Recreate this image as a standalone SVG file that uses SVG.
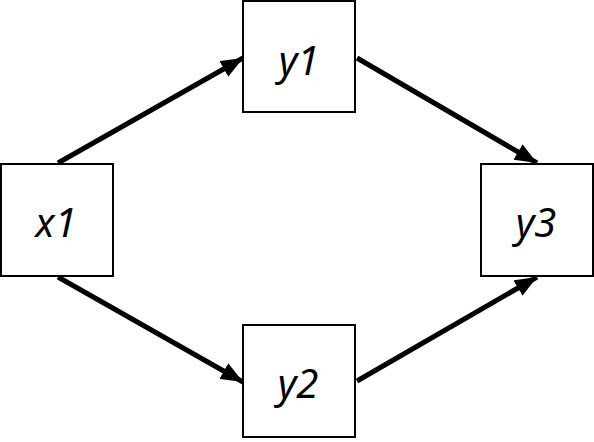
<svg xmlns="http://www.w3.org/2000/svg" width="594" height="442" viewBox="0 0 594 442">
<style>
.box{fill:#fff;stroke:#000;stroke-width:2}
.lbl{font-family:"Noto Sans","DejaVu Sans",sans-serif;font-style:italic;font-size:40px;fill:#000;text-anchor:middle}
.arr{stroke:#000;stroke-width:5;fill:none;marker-end:url(#ah)}
</style>
<defs>
<marker id="ah" markerUnits="userSpaceOnUse" markerWidth="22" markerHeight="18" refX="22" refY="9" orient="auto">
<path d="M0,0 L22,9 L0,18 Z" fill="#000"/>
</marker>
</defs>
<rect width="594" height="442" fill="#fff"/>
<g id="connectors">
<line class="arr" x1="58" y1="163" x2="243" y2="58"/>
<line class="arr" x1="357" y1="58" x2="537" y2="163"/>
<line class="arr" x1="58" y1="277" x2="243" y2="382"/>
<line class="arr" x1="357" y1="381" x2="537" y2="277"/>
</g>
<g id="x1"><rect class="box" x="1" y="164" width="112" height="112"/><text class="lbl" x="56" y="237">x1</text></g>
<g id="y1"><rect class="box" x="243" y="1" width="112" height="111"/><text class="lbl" x="299" y="75">y1</text></g>
<g id="y2"><rect class="box" x="243" y="325" width="112" height="112"/><text class="lbl" x="298" y="398">y2</text></g>
<g id="y3"><rect class="box" x="481" y="164" width="112" height="112"/><text class="lbl" x="536" y="237">y3</text></g>
</svg>
